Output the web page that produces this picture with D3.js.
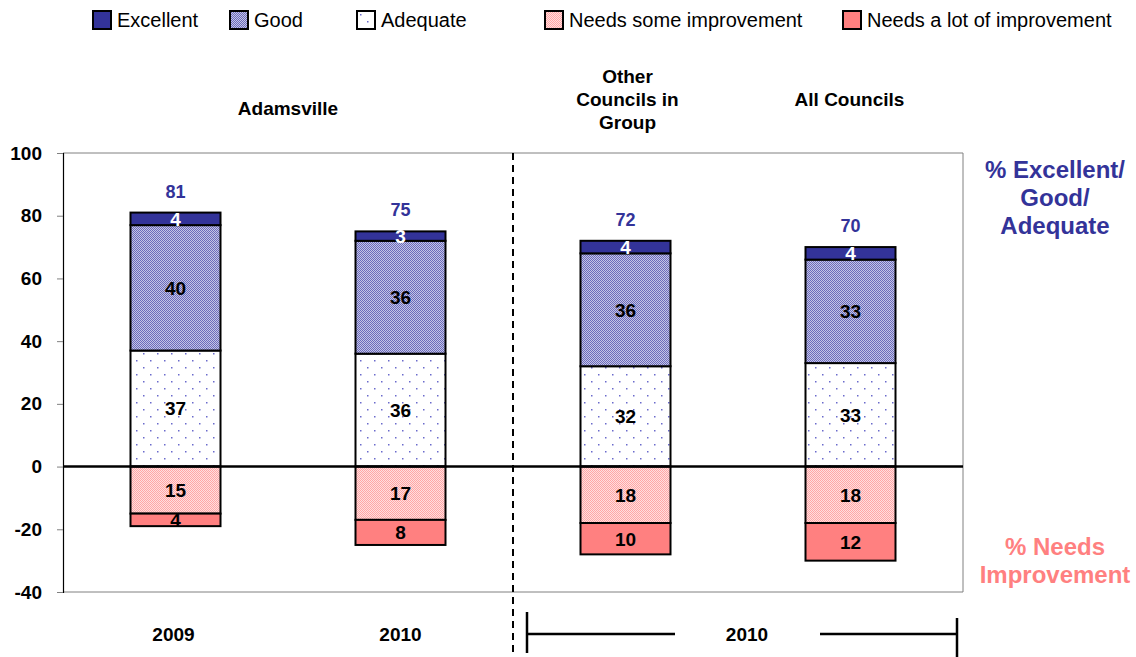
<!DOCTYPE html>
<html>
<head>
<meta charset="utf-8">
<script src="https://cdn.jsdelivr.net/npm/d3@7"></script>
<style>
  body { margin: 0; background: #fff; }
  svg { display: block; font-family: Arial, "Liberation Sans", sans-serif; }
</style>
</head>
<body>
<svg id="chart" width="1136" height="657"></svg>
<script>
// Survey ratings per column (percent)
const columns = ["Adamsville 2009", "Adamsville 2010", "Other Councils 2010", "All Councils 2010"];
const excellent = [4, 3, 4, 4];
const good = [40, 36, 36, 33];
const adequate = [37, 36, 32, 33];
const needsSome = [15, 17, 18, 18];
const needsLot = [4, 8, 10, 12];
const totals = [81, 75, 72, 70];
const yTicks = [100, 80, 60, 40, 20, 0, -20, -40];
const legendLabels = ["Excellent", "Good", "Adequate", "Needs some improvement", "Needs a lot of improvement"];

const svg = d3.select("#chart");
const margin = { left: 63, right: 963, top: 153, bottom: 592 };

const x = d3.scaleBand().domain(columns).range([margin.left, margin.right]).paddingInner(0.6).paddingOuter(0.3);
const y = d3.scaleLinear().domain([-40, 100]).range([margin.bottom, margin.top]);

// Fill patterns
const defs = svg.append("defs");
const pGood = defs.append("pattern").attr("id", "pGood").attr("width", 2).attr("height", 2).attr("patternUnits", "userSpaceOnUse");
pGood.append("rect").attr("width", 2).attr("height", 2).attr("fill", "#c4c4e6");
pGood.append("rect").attr("width", 1).attr("height", 1).attr("fill", "#6b6bbb");
pGood.append("rect").attr("x", 1).attr("y", 1).attr("width", 1).attr("height", 1).attr("fill", "#6b6bbb");

const pAdeq = defs.append("pattern").attr("id", "pAdeq").attr("width", 14).attr("height", 14).attr("patternUnits", "userSpaceOnUse");
pAdeq.append("rect").attr("width", 14).attr("height", 14).attr("fill", "#fff");
pAdeq.append("rect").attr("x", 3).attr("y", 3).attr("width", 1.5).attr("height", 1.5).attr("fill", "#6a6acc");
pAdeq.append("rect").attr("x", 10).attr("y", 10).attr("width", 1.5).attr("height", 1.5).attr("fill", "#6a6acc");

const pSome = defs.append("pattern").attr("id", "pSome").attr("width", 2).attr("height", 2).attr("patternUnits", "userSpaceOnUse");
pSome.append("rect").attr("width", 2).attr("height", 2).attr("fill", "#ffdede");
pSome.append("rect").attr("width", 1).attr("height", 1).attr("fill", "#ffa6a6");
pSome.append("rect").attr("x", 1).attr("y", 1).attr("width", 1).attr("height", 1).attr("fill", "#ffa6a6");

const series = [
  { name: "Excellent", values: excellent, fill: "#333399", text: "#fff", sign: 1 },
  { name: "Good", values: good, fill: "url(#pGood)", text: "#000", sign: 1 },
  { name: "Adequate", values: adequate, fill: "url(#pAdeq)", text: "#000", sign: 1 },
  { name: "Needs some improvement", values: needsSome, fill: "url(#pSome)", text: "#000", sign: -1 },
  { name: "Needs a lot of improvement", values: needsLot, fill: "#ff8080", text: "#000", sign: -1 }
];
// Stacking order outward from zero
const positiveStack = [series[2], series[1], series[0]];
const negativeStack = [series[3], series[4]];

// Plot frame (top, bottom and right in grey, left axis black)
svg.append("line").attr("x1", margin.left).attr("x2", margin.right).attr("y1", y(100)).attr("y2", y(100)).attr("stroke", "#808080");
svg.append("line").attr("x1", margin.left).attr("x2", margin.right).attr("y1", y(-40)).attr("y2", y(-40)).attr("stroke", "#808080");
svg.append("line").attr("x1", margin.right).attr("x2", margin.right).attr("y1", y(100)).attr("y2", y(-40)).attr("stroke", "#808080");

// Y axis (plain hyphen for negatives)
const yAxis = svg.append("g").attr("transform", `translate(${margin.left},0)`)
  .call(d3.axisLeft(y).tickValues(yTicks).tickSize(6).tickPadding(15).tickFormat(d => String(d)));
yAxis.select(".domain").attr("stroke", "#000").attr("stroke-width", 1.2);
yAxis.selectAll(".tick line").attr("stroke", "#808080");
yAxis.selectAll(".tick text").attr("font-size", 19).attr("font-weight", "bold").attr("fill", "#000")
  .attr("font-family", "Arial, 'Liberation Sans', sans-serif");

// Stacked bar segments
const segs = [];
columns.forEach((c, i) => {
  let up = 0, down = 0;
  positiveStack.forEach(s => {
    const v = s.values[i];
    segs.push({ col: c, v, y0: up, y1: up + v, s });
    up += v;
  });
  negativeStack.forEach(s => {
    const v = s.values[i];
    segs.push({ col: c, v, y0: down, y1: down - v, s });
    down -= v;
  });
});

svg.append("g").selectAll("rect").data(segs).join("rect")
  .attr("x", d => x(d.col))
  .attr("width", x.bandwidth())
  .attr("y", d => y(Math.max(d.y0, d.y1)))
  .attr("height", d => Math.abs(y(d.y0) - y(d.y1)))
  .attr("fill", d => d.s.fill)
  .attr("stroke", "#000")
  .attr("stroke-width", 2);

// Segment value labels
svg.append("g").selectAll("text").data(segs).join("text")
  .attr("x", d => x(d.col) + x.bandwidth() / 2)
  .attr("y", d => y((d.y0 + d.y1) / 2))
  .attr("dy", "0.36em")
  .attr("text-anchor", "middle")
  .attr("font-size", 19).attr("font-weight", "bold")
  .attr("fill", d => d.s.text)
  .text(d => d.v);

// Totals above bars
svg.append("g").selectAll("text").data(columns).join("text")
  .attr("x", c => x(c) + x.bandwidth() / 2)
  .attr("y", (c, i) => y(totals[i]) - 15)
  .attr("text-anchor", "middle")
  .attr("font-size", 18).attr("font-weight", "bold").attr("fill", "#333399")
  .text((c, i) => totals[i]);

// Zero line
svg.append("line").attr("x1", margin.left).attr("x2", margin.right).attr("y1", y(0)).attr("y2", y(0))
  .attr("stroke", "#000").attr("stroke-width", 2.5);

// Dashed divider between Adamsville and comparison groups
const divX = (x(columns[1]) + x.bandwidth() + x(columns[2])) / 2;
svg.append("line").attr("x1", divX).attr("x2", divX).attr("y1", y(100)).attr("y2", 656)
  .attr("stroke", "#000").attr("stroke-width", 2).attr("stroke-dasharray", "7,5");

// Group headings above the plot
const cx = i => x(columns[i]) + x.bandwidth() / 2;
const heading = (tx, lines, y0) => {
  const t = svg.append("text").attr("text-anchor", "middle").attr("font-size", 19).attr("font-weight", "bold").attr("fill", "#000");
  lines.forEach((l, k) => t.append("tspan").attr("x", tx).attr("y", y0 + k * 23).text(l));
};
heading((cx(0) + cx(1)) / 2, ["Adamsville"], 115);
heading(cx(2) + 2, ["Other", "Councils in", "Group"], 83);
heading(cx(3) - 1, ["All Councils"], 106);

// Year labels below the plot
const yearLabel = (tx, txt) => svg.append("text").attr("x", tx).attr("y", 641).attr("text-anchor", "middle")
  .attr("font-size", 19).attr("font-weight", "bold").text(txt);
yearLabel(cx(0) - 2, "2009");
yearLabel(cx(1), "2010");
const brL = 527, brR = 957;
yearLabel((brL + brR) / 2 + 5, "2010");
const br = svg.append("g").attr("stroke", "#000").attr("stroke-width", 2.5);
br.append("line").attr("x1", brL).attr("x2", brL).attr("y1", 612).attr("y2", 653);
br.append("line").attr("x1", brL).attr("x2", 675).attr("y1", 634).attr("y2", 634);
br.append("line").attr("x1", 820).attr("x2", brR).attr("y1", 634).attr("y2", 634);
br.append("line").attr("x1", brR).attr("x2", brR).attr("y1", 618).attr("y2", 657);

// Side annotations
const side = (lines, y0, color) => {
  const t = svg.append("text").attr("text-anchor", "middle").attr("font-size", 24).attr("font-weight", "bold").attr("fill", color);
  lines.forEach((l, k) => t.append("tspan").attr("x", 1055).attr("y", y0 + k * 28).text(l));
};
side(["% Excellent/", "Good/", "Adequate"], 178, "#333399");
side(["% Needs", "Improvement"], 555, "#ff8080");

// Legend
const legendX = [93, 230, 357, 545, 843];
const legendFill = series.map(s => s.fill);
const lg = svg.append("g").selectAll("g").data(legendLabels).join("g")
  .attr("transform", (d, i) => `translate(${legendX[i]},11)`);
lg.append("rect").attr("width", 18).attr("height", 18).attr("fill", (d, i) => legendFill[i]).attr("stroke", "#000").attr("stroke-width", 2);
lg.append("text").attr("x", 24).attr("y", 16).attr("font-size", 20).attr("fill", "#000").text(d => d);
</script>
</body>
</html>
